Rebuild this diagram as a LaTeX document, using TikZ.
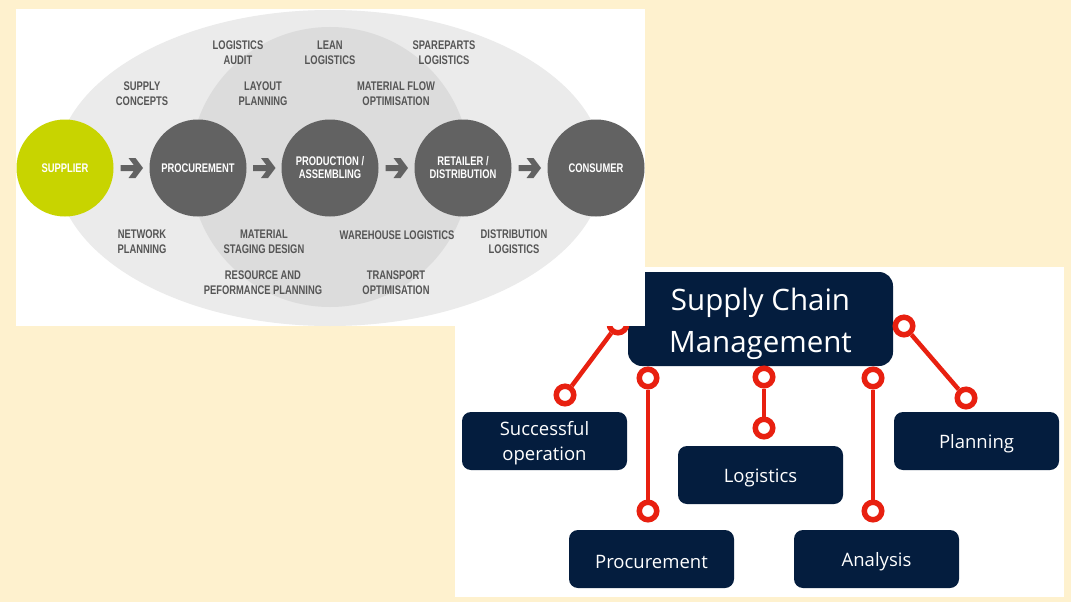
\documentclass[tikz,border=0pt]{standalone}
\usepackage{fontspec}
\setmainfont{Open Sans}
\newfontfamily\labfont{Liberation Sans}[FakeStretch=0.75]
\usetikzlibrary{calc}
\definecolor{cream}{RGB}{254,241,206}
\definecolor{outerg}{RGB}{235,235,235}
\definecolor{innerg}{RGB}{220,220,220}
\definecolor{stagegray}{RGB}{98,98,98}
\definecolor{labgray}{RGB}{85,85,85}
\definecolor{lime}{RGB}{200,212,0}
\definecolor{navy}{RGB}{4,29,62}
\definecolor{scmred}{RGB}{232,32,16}
\tikzset{
  lab/.style={font=\labfont\bfseries\fontsize{12.5}{14.7}\selectfont, text=labgray, align=center, inner sep=0pt},
  stage/.style={circle, fill=stagegray, minimum size=97pt, inner sep=0pt, text=white, align=center,
    font=\labfont\bfseries\fontsize{12.5}{13}\selectfont},
  navybox/.style={rectangle, rounded corners=9pt, fill=navy, text=white, minimum width=165pt,
    minimum height=58pt, align=center, inner sep=0pt, font=\fontsize{18.5}{25}\selectfont},
  titlebox/.style={rectangle, rounded corners=14pt, fill=navy, text=white, minimum width=265pt,
    minimum height=94pt, align=center, inner sep=0pt, font=\fontsize{29.5}{42}\selectfont},
  ring/.style={circle, draw=scmred, fill=white, line width=5.5pt, minimum size=17.5pt, inner sep=0pt},
  redline/.style={draw=scmred, line width=4.5pt},
  fwd/.pic={\fill[stagegray] (-11,-3) -- (2.25,-3) -- (-3,-10) -- (4,-10) -- (11.5,0) -- (4,10) -- (-3,10) -- (2.25,3) -- (-11,3) -- cycle;}
}
\begin{document}
\begin{tikzpicture}[x=1pt,y=-1pt]
\useasboundingbox (0,0) rectangle (1071,602);
\fill[cream] (0,0) rectangle (1071,602);
% right panel
\fill[white] (455,267) rectangle (1064,597);
\node[titlebox] (scm) at (760.5,319) {\rule{0pt}{32.5pt}Supply Chain\\Management};
\node[navybox] (so) at (544.5,441) {\rule{0pt}{18pt}Successful\\operation};
\node[navybox] (pr) at (651.5,559) {\rule{0pt}{20pt}Procurement};
\node[navybox] (lo) at (760.5,475) {\rule{0pt}{20pt}Logistics};
\node[navybox] (an) at (876.5,559) {\rule{0pt}{20pt}Analysis};
\node[navybox] (pl) at (976.5,441) {\rule{0pt}{20pt}Planning};
\node[ring] (r1a) at (618,324) {};
\node[ring] (r1b) at (565,395) {};
\node[ring] (r2a) at (648,378) {};
\node[ring] (r2b) at (648,511) {};
\node[ring] (r3a) at (764,377) {};
\node[ring] (r3b) at (764,428) {};
\node[ring] (r4a) at (873,378) {};
\node[ring] (r4b) at (873,511) {};
\node[ring] (r5a) at (904,326) {};
\node[ring] (r5b) at (966,398) {};
\draw[redline] (r1a) -- (r1b);
\draw[redline] (r2a) -- (r2b);
\draw[redline] (r3a) -- (r3b);
\draw[redline] (r4a) -- (r4b);
\draw[redline] (r5a) -- (r5b);
% left panel
\fill[white] (16,9) rectangle (645,326);
\begin{scope}
\clip (16,9) rectangle (645,326);
\fill[outerg] (330,168) ellipse [x radius=274, y radius=158];
\fill[innerg] (330,167) ellipse [x radius=140, y radius=140];
\end{scope}
\node[stage, fill=lime] (sup) at (65,168) {SUPPLIER};
\node[stage] (proc) at (198,168) {PROCUREMENT};
\node[stage] (prod) at (330,168) {PRODUCTION /\\ASSEMBLING};
\node[stage] (ret) at (463,168) {RETAILER /\\DISTRIBUTION};
\node[stage] (con) at (596,168) {CONSUMER};
\pic at ($(sup)!0.5!(proc)$) {fwd};
\pic at ($(proc)!0.5!(prod)$) {fwd};
\pic at ($(prod)!0.5!(ret)$) {fwd};
\pic at ($(ret)!0.5!(con)$) {fwd};
\node[lab] (l1) at (238,53) {LOGISTICS\\AUDIT};
\node[lab] (l2) at (330,53) {LEAN\\LOGISTICS};
\node[lab] (l3) at (444,53) {SPAREPARTS\\LOGISTICS};
\node[lab] (l4) at (142,94) {SUPPLY\\CONCEPTS};
\node[lab] (l5) at (263,94) {LAYOUT\\PLANNING};
\node[lab] (l6) at (396,94) {MATERIAL FLOW\\OPTIMISATION};
\node[lab] (l7) at (142,242) {NETWORK\\PLANNING};
\node[lab] (l8) at (264,242) {MATERIAL\\STAGING DESIGN};
\node[lab] (l9) at (397,235) {WAREHOUSE LOGISTICS};
\node[lab] (l10) at (514,242) {DISTRIBUTION\\LOGISTICS};
\node[lab] (l11) at (263,283) {RESOURCE AND\\PEFORMANCE PLANNING};
\node[lab] (l12) at (396,283) {TRANSPORT\\OPTIMISATION};
\end{tikzpicture}
\end{document}
